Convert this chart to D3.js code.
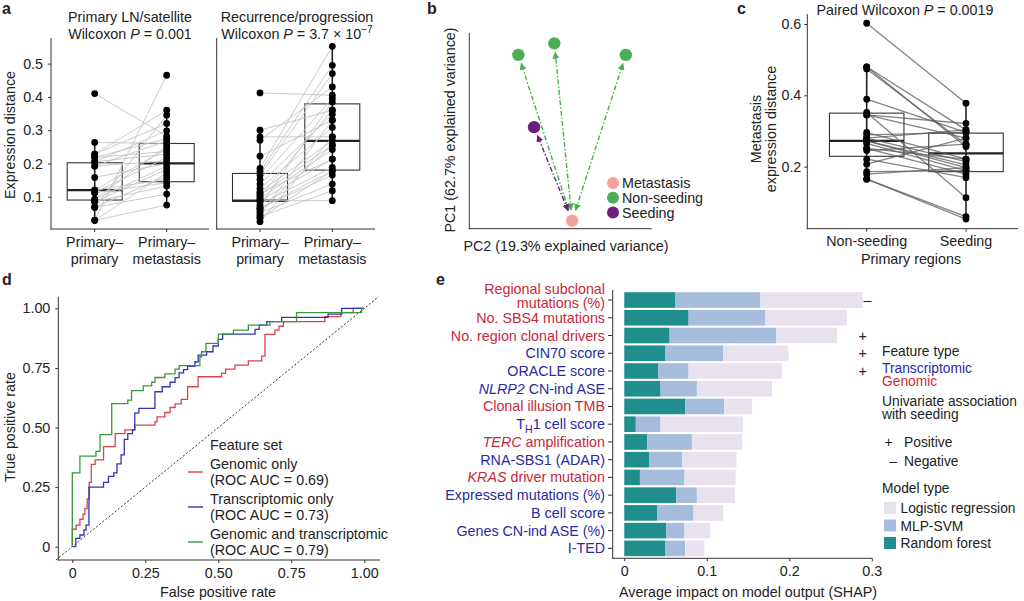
<!DOCTYPE html>
<html><head><meta charset="utf-8">
<script src="https://cdn.jsdelivr.net/npm/d3@7"></script>
<style>body{margin:0;background:#fff}svg{display:block}text{font-family:"Liberation Sans",Arial,Helvetica,sans-serif;fill:#222}</style>
</head><body><svg id="c" width="1024" height="601"></svg>
<script>
// ---------------- DATA ----------------
// Panel a
const aCategoryLines = [["Primary–", "primary"], ["Primary–", "metastasis"]];
const aCategories = ["Primary–primary", "Primary–metastasis"];
const aYTicks = [0.1, 0.2, 0.3, 0.4, 0.5];
// boxes: [q1, median, q3, whiskerLow, whiskerHigh]
const aLeftBoxes = [[0.09, 0.12, 0.202, 0.029, 0.263], [0.145, 0.2, 0.26, 0.075, 0.36]];
const aRightBoxes = [[0.086, 0.088, 0.17, 0.025, 0.30], [0.18, 0.268, 0.379, 0.088, 0.552]];
// paired values [primary-primary, primary-metastasis]
const aLeftPairs = [
  [0.41, 0.282], [0.263, 0.26], [0.228, 0.36], [0.228, 0.32], [0.218, 0.275], [0.218, 0.236],
  [0.205, 0.298], [0.205, 0.228], [0.192, 0.268], [0.192, 0.208], [0.158, 0.2], [0.12, 0.244],
  [0.12, 0.152], [0.112, 0.218], [0.112, 0.142], [0.092, 0.252], [0.092, 0.192], [0.085, 0.182],
  [0.085, 0.132], [0.068, 0.345], [0.068, 0.162], [0.068, 0.108], [0.029, 0.465], [0.029, 0.172],
  [0.029, 0.075]
];
const aRightPairs = [
  [0.412, 0.405], [0.30, 0.36], [0.28, 0.28], [0.27, 0.43], [0.222, 0.33], [0.185, 0.552],
  [0.175, 0.495], [0.165, 0.47], [0.152, 0.395], [0.138, 0.348], [0.125, 0.308], [0.115, 0.268],
  [0.105, 0.255], [0.095, 0.242], [0.088, 0.088], [0.088, 0.213], [0.078, 0.188], [0.065, 0.178],
  [0.065, 0.165], [0.052, 0.138], [0.04, 0.118], [0.025, 0.28], [0.10, 0.36], [0.058, 0.255],
  [0.072, 0.385], [0.045, 0.33], [0.11, 0.213], [0.035, 0.178]
];
// Panel b
const bRegion = ["Metastasis", "Non-seeding", "Non-seeding", "Non-seeding", "Seeding"];
const bPC2 = [0.564, 0.269, 0.466, 0.858, 0.355];
const bPC1 = [0.041, 0.888, 0.947, 0.888, 0.519];
const bLegend = ["Metastasis", "Non-seeding", "Seeding"];
// Panel c
const cCategories = ["Non-seeding", "Seeding"];
const cYTicks = [0.2, 0.4, 0.6];
const cBoxes = [[0.229, 0.272, 0.35, 0.165, 0.48], [0.186, 0.237, 0.294, 0.053, 0.378]];
const cPairs = [
  [0.602, 0.378], [0.48, 0.303], [0.48, 0.256], [0.474, 0.263], [0.389, 0.296], [0.352, 0.113],
  [0.345, 0.321], [0.345, 0.28], [0.296, 0.221], [0.289, 0.296], [0.28, 0.214], [0.272, 0.205],
  [0.272, 0.197], [0.265, 0.189], [0.251, 0.179], [0.245, 0.263], [0.221, 0.169], [0.207, 0.28],
  [0.186, 0.189], [0.179, 0.197], [0.165, 0.06], [0.165, 0.053], [0.28, 0.303], [0.251, 0.221]
];
// Panel d (ROC step corners: [FPR, TPR])
const dTicks = [0, 0.25, 0.5, 0.75, 1];
const dTickLabels = ["0", "0.25", "0.50", "0.75", "1.00"];
const rocGenomic = [[0,0],[0,0.073],[0.013,0.09],[0.026,0.115],[0.037,0.136],[0.043,0.16],[0.051,0.20],[0.058,0.27],[0.065,0.345],[0.078,0.364],[0.107,0.42],[0.147,0.474],[0.18,0.49],[0.214,0.51],[0.283,0.524],[0.29,0.545],[0.317,0.563],[0.335,0.584],[0.352,0.599],[0.373,0.618],[0.395,0.671],[0.431,0.713],[0.511,0.727],[0.525,0.745],[0.557,0.762],[0.603,0.78],[0.649,0.80],[0.66,0.891],[0.694,0.909],[0.708,0.925],[0.723,0.944],[0.865,0.965],[0.92,0.982],[0.962,1],[1,1]];
const rocTranscriptomic = [[0,0],[0.012,0.035],[0.026,0.049],[0.04,0.07],[0.047,0.09],[0.057,0.25],[0.107,0.27],[0.124,0.295],[0.142,0.31],[0.153,0.347],[0.167,0.385],[0.178,0.45],[0.19,0.474],[0.206,0.49],[0.214,0.56],[0.228,0.58],[0.283,0.65],[0.308,0.671],[0.335,0.69],[0.352,0.709],[0.366,0.729],[0.381,0.743],[0.395,0.757],[0.42,0.776],[0.431,0.804],[0.46,0.818],[0.482,0.842],[0.5,0.87],[0.515,0.892],[0.626,0.912],[0.64,0.93],[0.666,0.944],[0.717,0.962],[0.876,0.976],[0.923,1],[1,1]];
const rocCombined = [[0,0],[0,0.31],[0.026,0.38],[0.081,0.40],[0.095,0.47],[0.135,0.60],[0.19,0.615],[0.203,0.655],[0.243,0.675],[0.272,0.69],[0.283,0.71],[0.317,0.725],[0.352,0.745],[0.366,0.76],[0.437,0.797],[0.443,0.818],[0.458,0.853],[0.5,0.892],[0.552,0.909],[0.603,0.93],[0.677,0.944],[0.768,0.982],[0.991,1],[1,1]];
const dSeriesNames = ["Genomic only", "Transcriptomic only", "Genomic and transcriptomic"];
const dSeriesAUC = ["(ROC AUC = 0.69)", "(ROC AUC = 0.73)", "(ROC AUC = 0.79)"];
// Panel e
const eFeatures = ["Regional subclonal|mutations (%)", "No. SBS4 mutations", "No. region clonal drivers", "CIN70 score", "ORACLE score", "<i>NLRP2</i> CN-ind ASE", "Clonal illusion TMB", "T<sub>H</sub>1 cell score", "<i>TERC</i> amplification", "RNA-SBS1 (ADAR)", "<i>KRAS</i> driver mutation", "Expressed mutations (%)", "B cell score", "Genes CN-ind ASE (%)", "I-TED"];
const eFeatureType = ["Genomic","Genomic","Genomic","Transcriptomic","Transcriptomic","Transcriptomic","Genomic","Transcriptomic","Genomic","Transcriptomic","Genomic","Transcriptomic","Transcriptomic","Transcriptomic","Transcriptomic"];
const eRandomForest = [0.062,0.078,0.055,0.05,0.041,0.044,0.074,0.014,0.028,0.03,0.019,0.063,0.04,0.051,0.05];
const eMLPSVM = [0.103,0.093,0.129,0.07,0.037,0.044,0.047,0.03,0.054,0.04,0.054,0.025,0.044,0.022,0.024];
const eLogistic = [0.124,0.099,0.074,0.079,0.113,0.091,0.034,0.1,0.061,0.066,0.062,0.046,0.036,0.031,0.023];
const eAssociation = ["–","","+","+","+","","","","","","","","","",""];
const eXTicks = [0, 0.1, 0.2, 0.3];

// ---------------- STYLE ----------------
const AX = "#333";
const FS = 14.3;
const LFS = 13.8;
const C_RED = "#c8283c", C_BLUE = "#2a2aa2";
const C_RF = "#1f8e8c", C_MLP = "#a5bcdc", C_LR = "#e8e2ef";
const svg = d3.select("#c");

function text(g, x, y, s, o = {}) {
  const t = g.append("text").attr("x", x).attr("y", y).attr("font-size", o.size || FS)
    .attr("text-anchor", o.anchor || "start");
  if (o.weight) t.attr("font-weight", o.weight);
  if (o.fill) t.style("fill", o.fill);
  if (o.rotate) t.attr("transform", `rotate(-90,${x},${y})`);
  rich(t, s);
  return t;
}
function rich(t, s) {
  const re = /<(i|sub|sup)>(.*?)<\/\1>/g; let last = 0, m, shift = 0;
  const plain = str => { const sp = t.append("tspan").text(str); if (shift) { sp.attr("dy", -shift); shift = 0; } };
  while ((m = re.exec(s))) {
    if (m.index > last) plain(s.slice(last, m.index));
    if (m[1] === "i") { const sp = t.append("tspan").attr("font-style", "italic").text(m[2]); if (shift) { sp.attr("dy", -shift); shift = 0; } }
    else if (m[1] === "sub") { t.append("tspan").attr("font-size", "10.5px").attr("dy", 4).text(m[2]); shift = 4; }
    else { t.append("tspan").attr("font-size", "10px").attr("dy", -6).text(m[2]); shift = -6; }
    last = re.lastIndex;
  }
  if (last < s.length) plain(s.slice(last));
}
function hline(g, x1, x2, y, col = AX, w = 1) { g.append("line").attr("x1", x1).attr("x2", x2).attr("y1", y).attr("y2", y).attr("stroke", col).attr("stroke-width", w); }
function vline(g, x, y1, y2, col = AX, w = 1) { g.append("line").attr("x1", x).attr("x2", x).attr("y1", y1).attr("y2", y2).attr("stroke", col).attr("stroke-width", w); }
function styleAxis(a) {
  a.select(".domain").remove();
  a.selectAll("line").attr("stroke", AX);
  a.selectAll("text").attr("font-size", FS).attr("font-family", null).style("fill", "#222");
}

// ---------------- PANEL LABELS ----------------
[["a", 2, 14], ["b", 427, 14], ["c", 737, 14], ["d", 2, 285], ["e", 436, 285]].forEach(([l, x, y]) =>
  text(svg, x, y, l, { size: 16, weight: "bold" }));

// ---------------- PAIRED BOX PANELS ----------------
function pairedPanel(cfg) {
  const g = svg.append("g");
  const y = d3.scaleLinear().domain(cfg.yDomain).range([cfg.yBottom, cfg.yTop]);
  const x = d3.scalePoint().domain(cfg.cats).range(cfg.catX);
  vline(g, cfg.axisX0, cfg.yTop, cfg.yBottom + 0.5);
  hline(g, cfg.axisX0 - 0.5, cfg.axisX1, cfg.yBottom);
  if (cfg.yTicks) {
    const ax = g.append("g").attr("transform", `translate(${cfg.axisX0},0)`)
      .call(d3.axisLeft(y).tickValues(cfg.yTicks).tickSize(3).tickPadding(cfg.tickPad).tickSizeOuter(0).tickFormat(d3.format(".1f")));
    styleAxis(ax);
  }
  cfg.cats.forEach(c => vline(g, x(c), cfg.yBottom, cfg.yBottom + 3));
  cfg.boxes.forEach((b, i) => {
    const cx = x(cfg.cats[i]);
    vline(g, cx, y(b[4]), y(b[3]), "#222", 1.6);
    g.append("rect").attr("x", cx - cfg.bw / 2).attr("y", y(b[2])).attr("width", cfg.bw)
      .attr("height", y(b[0]) - y(b[2])).attr("fill", "none").attr("stroke", "#333").attr("stroke-width", 1.1);
    hline(g, cx - cfg.bw / 2, cx + cfg.bw / 2, y(b[1]), "#222", 2.2);
  });
  g.selectAll(".pl").data(cfg.pairs).join("line")
    .attr("x1", x(cfg.cats[0])).attr("x2", x(cfg.cats[1]))
    .attr("y1", d => y(d[0])).attr("y2", d => y(d[1]))
    .attr("stroke", cfg.lineColor).attr("stroke-width", cfg.lineWidth);
  const pts = cfg.pairs.flatMap(d => [[0, d[0]], [1, d[1]]]);
  g.selectAll(".pt").data(pts).join("circle")
    .attr("cx", d => x(cfg.cats[d[0]])).attr("cy", d => y(d[1])).attr("r", 3.4).attr("fill", "#000");
  return { g, x, y };
}

// Panel a
const aL = pairedPanel({ yDomain: [0.003, 0.577], yTop: 38, yBottom: 229, cats: aCategories, catX: [94.7, 166.7],
  axisX0: 51, axisX1: 209, yTicks: aYTicks, tickPad: 5, boxes: aLeftBoxes, pairs: aLeftPairs, bw: 55,
  lineColor: "#c4c4c4", lineWidth: 0.9 });
const aR = pairedPanel({ yDomain: [0.003, 0.577], yTop: 38, yBottom: 229, cats: aCategories, catX: [260, 332.3],
  axisX0: 216.7, axisX1: 375, yTicks: null, boxes: aRightBoxes, pairs: aRightPairs, bw: 55,
  lineColor: "#c4c4c4", lineWidth: 0.9 });
[aL, aR].forEach(p => aCategories.forEach((c, i) => {
  text(p.g, p.x(c), 247, aCategoryLines[i][0], { anchor: "middle" });
  text(p.g, p.x(c), 263.5, aCategoryLines[i][1], { anchor: "middle" });
}));
text(svg, 130, 22, "Primary LN/satellite", { anchor: "middle" });
text(svg, 130, 38.5, "Wilcoxon <i>P</i> = 0.001", { anchor: "middle" });
text(svg, 297, 22, "Recurrence/progression", { anchor: "middle" });
text(svg, 297, 38.5, "Wilcoxon <i>P</i> = 3.7 × 10<sup>−7</sup>", { anchor: "middle" });
text(svg, 15, 135, "Expression distance", { anchor: "middle", rotate: true });

// Panel c
const cP = pairedPanel({ yDomain: [0.026, 0.628], yTop: 14, yBottom: 228.7, cats: cCategories, catX: [866.7, 966],
  axisX0: 807.3, axisX1: 1018, yTicks: cYTicks, tickPad: 3, boxes: cBoxes, pairs: cPairs, bw: 74.5,
  lineColor: "rgba(90,90,90,0.75)", lineWidth: 1.3 });
cCategories.forEach(c => text(cP.g, cP.x(c), 246, c, { anchor: "middle" }));
text(svg, 911, 263.5, "Primary regions", { anchor: "middle" });
text(svg, 905, 15, "Paired Wilcoxon <i>P</i> = 0.0019", { anchor: "middle" });
text(svg, 761, 129, "Metastasis", { anchor: "middle", rotate: true });
text(svg, 776, 129, "expression distance", { anchor: "middle", rotate: true });

// ---------------- PANEL B ----------------
(function () {
  const g = svg.append("g");
  const x = d3.scaleLinear().domain([0, 1]).range([469.3, 651.7]);
  const y = d3.scaleLinear().domain([0, 1]).range([228.7, 33]);
  const col = d3.scaleOrdinal().domain(bLegend).range(["#f4a29b", "#4cae54", "#6b1f7c"]);
  vline(g, 469.3, 33, 229.2);
  hline(g, 468.8, 651.7, 228.7);
  const defs = svg.append("defs");
  bLegend.forEach((k, i) => {
    defs.append("marker").attr("id", "arr" + i).attr("viewBox", "0 0 10 10").attr("refX", 9).attr("refY", 5)
      .attr("markerWidth", 7).attr("markerHeight", 7).attr("markerUnits", "userSpaceOnUse").attr("orient", "auto-start-reverse")
      .append("path").attr("d", "M0,0 L10,5 L0,10 z").attr("fill", col(k));
  });
  const m = bRegion.indexOf("Metastasis");
  const mx = x(bPC2[m]), my = y(bPC1[m]);
  bRegion.forEach((r, i) => {
    if (i === m) return;
    const px = x(bPC2[i]), py = y(bPC1[i]);
    const dx = px - mx, dy = py - my, L = Math.hypot(dx, dy), ux = dx / L, uy = dy / L;
    g.append("line").attr("x1", mx + ux * 11).attr("y1", my + uy * 11).attr("x2", px - ux * 9).attr("y2", py - uy * 9)
      .attr("stroke", col(r)).attr("stroke-width", 1.4).attr("stroke-dasharray", "5,2,1.5,2")
      .attr("marker-start", `url(#arr${bLegend.indexOf(r)})`).attr("marker-end", `url(#arr${bLegend.indexOf(r)})`);
  });
  bRegion.forEach((r, i) => g.append("circle").attr("cx", x(bPC2[i])).attr("cy", y(bPC1[i])).attr("r", 6.2).attr("fill", col(r)));
  bLegend.forEach((k, i) => {
    g.append("circle").attr("cx", 613).attr("cy", 183 + i * 14.8).attr("r", 6).attr("fill", col(k));
    text(g, 622, 188 + i * 14.8, k);
  });
  text(g, 566, 251, "PC2 (19.3% explained variance)", { anchor: "middle" });
  text(g, 455, 130, "PC1 (62.7% explained variance)", { anchor: "middle", rotate: true });
})();

// ---------------- PANEL D ----------------
(function () {
  const g = svg.append("g");
  const x = d3.scaleLinear().domain([-0.048, 1.054]).range([58.3, 380]);
  const y = d3.scaleLinear().domain([-0.056, 1.049]).range([560, 296.7]);
  vline(g, 58.3, 296.7, 560.5);
  hline(g, 57.8, 380, 560);
  const ax = g.append("g").attr("transform", "translate(0,560)")
    .call(d3.axisBottom(x).tickValues(dTicks).tickSize(3).tickPadding(5).tickFormat((d, i) => dTickLabels[i]));
  const ay = g.append("g").attr("transform", "translate(58.3,0)")
    .call(d3.axisLeft(y).tickValues(dTicks).tickSize(3).tickPadding(5).tickFormat((d, i) => dTickLabels[i]));
  styleAxis(ax); styleAxis(ay);
  const lo = -0.056;
  g.append("line").attr("x1", x(lo)).attr("y1", y(lo)).attr("x2", x(1.049)).attr("y2", y(1.049))
    .attr("stroke", "#333").attr("stroke-width", 1).attr("stroke-dasharray", "2,2");
  const line = d3.line().x(d => x(d[0])).y(d => y(d[1])).curve(d3.curveStepAfter);
  const series = [rocGenomic, rocTranscriptomic, rocCombined];
  const cols = ["#d9434f", "#3434b4", "#3a9a3a"];
  series.forEach((s, i) => g.append("path").attr("d", line(s)).attr("fill", "none").attr("stroke", cols[i]).attr("stroke-width", 1.3));
  text(g, 210, 450, "Feature set");
  dSeriesNames.forEach((n, i) => {
    const yy = 468.5 + i * 35;
    hline(g, 188, 203, yy + 3.5, cols[i], 1.4);
    text(g, 210, yy, n);
    text(g, 210, yy + 16, dSeriesAUC[i]);
  });
  text(g, 218, 597, "False positive rate", { anchor: "middle" });
  text(g, 15, 427, "True positive rate", { anchor: "middle", rotate: true });
})();

// ---------------- PANEL E ----------------
(function () {
  const g = svg.append("g");
  const x = d3.scaleLinear().domain([-0.014, 0.3]).range([612.7, 871.8]);
  const y = d3.scaleBand().domain(eFeatures).range([290.1, 558.3]).paddingInner(0.12).paddingOuter(0.12);
  const rows = eFeatures.map((f, i) => ({ f, rf: eRandomForest[i], mlp: eMLPSVM[i], lr: eLogistic[i] }));
  const stack = d3.stack().keys(["rf", "mlp", "lr"])(rows);
  const cols = { rf: C_RF, mlp: C_MLP, lr: C_LR };
  stack.forEach(layer => {
    g.selectAll(null).data(layer).join("rect")
      .attr("x", d => x(d[0])).attr("width", d => x(d[1]) - x(d[0]))
      .attr("y", d => y(d.data.f)).attr("height", y.bandwidth()).attr("fill", cols[layer.key]);
  });
  vline(g, 612.7, 290, 558.8);
  hline(g, 612.2, 872.3, 558.3);
  const ax = g.append("g").attr("transform", "translate(0,558.3)")
    .call(d3.axisBottom(x).tickValues(eXTicks).tickSize(3).tickPadding(5).tickFormat(d => d === 0 ? "0" : d3.format(".1f")(d)));
  styleAxis(ax);
  eFeatures.forEach((f, i) => {
    const cy = y(f) + y.bandwidth() / 2;
    hline(g, 608, 612.7, cy);
    const fill = eFeatureType[i] === "Genomic" ? C_RED : C_BLUE;
    const parts = f.split("|");
    if (parts.length === 2) {
      text(g, 605, cy - 6, parts[0], { anchor: "end", fill });
      text(g, 605, cy + 8, parts[1], { anchor: "end", fill });
    } else text(g, 605, cy + 5, f, { anchor: "end", fill });
    if (eAssociation[i]) text(g, eAssociation[i] === "+" ? 862.7 : 867.5, cy + 5, eAssociation[i], { anchor: "middle" });
  });
  text(g, 748, 597, "Average impact on model output (SHAP)", { anchor: "middle" });
  const L = { size: LFS };
  text(g, 882, 355.5, "Feature type", L);
  text(g, 882, 372.5, "Transcriptomic", { size: LFS, fill: C_BLUE });
  text(g, 882, 386, "Genomic", { size: LFS, fill: C_RED });
  text(g, 882, 405.5, "Univariate association", L);
  text(g, 882, 419, "with seeding", L);
  text(g, 888.5, 447, "+", { size: LFS, anchor: "middle" });
  text(g, 904, 447, "Positive", L);
  text(g, 893, 465.5, "–", { size: LFS, anchor: "middle" });
  text(g, 904, 465.5, "Negative", L);
  text(g, 882, 493, "Model type", L);
  [["Logistic regression", C_LR], ["MLP-SVM", C_MLP], ["Random forest", C_RF]].forEach(([n, c], i) => {
    g.append("rect").attr("x", 884).attr("y", 502 + i * 17.5).attr("width", 12).attr("height", 12).attr("fill", c);
    text(g, 900.5, 513 + i * 17.5, n, L);
  });
})();
</script></body></html>
